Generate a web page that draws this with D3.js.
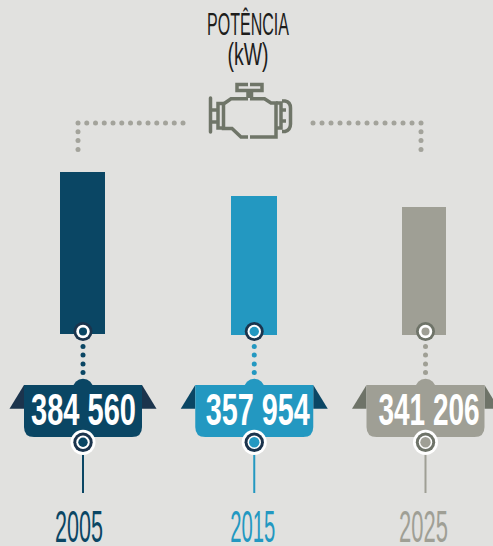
<!DOCTYPE html>
<html><head><meta charset="utf-8"><style>html,body{margin:0;padding:0;background:#e1e1df}svg{display:block}</style>
<script src="https://cdn.jsdelivr.net/npm/d3@7"></script></head><body><svg id="c" width="493" height="546"></svg>
<script>
const years=["2005","2015","2025"];
const values=[384560,357954,341206];
const labels=["384 560","357 954","341 206"];
const titleLines=["POTÊNCIA","(kW)"];
const mainColors=["#0a4664","#2398c1","#9f9f95"];
const darkColors=["#1b344d","#0a4664","#6e7368"];
const ringColors=["#1b344d","#1b344d","#6e7368"];
const svg=d3.select("#c");
const FONT="'Liberation Sans Narrow','Liberation Sans',sans-serif";
const x=d3.scalePoint().domain(years).range([83,425.5]);
const y=d3.scaleLinear().domain([341206,357954,384560]).range([207,196,172]);
const BASE=335;
const barDx=[-0.5,-0.25,-1.5], barW=[45,46,44], yearDx=[-4,-1.5,-2], yearW=[48,45,49], valDx=[0.5,3.5,3.5], valW=[105,104,101];
function condText(cx,by,t,w,size,fill,weight){
  const n=svg.append("text").attr("font-family",FONT).attr("font-size",size).attr("font-weight",weight||400)
    .attr("fill",fill).attr("text-anchor","middle").text(t);
  const sx=w/n.node().getComputedTextLength();
  n.attr("transform",`translate(${cx},${by}) scale(${sx},1)`);
  return n;
}
condText(248,35,titleLines[0],82,31.5,"#1d1d1b");
condText(248,65,titleLines[1],41,31.5,"#1d1d1b");
const dot="#a3a39b";
const dotsL=d3.range(13).map(i=>[78+i*8.75,123]).concat([131.7,140.5,149.5].map(v=>[78,v]));
const dotsR=d3.range(13).map(i=>[421-i*9,123]).concat([131.7,140.5,149.5].map(v=>[421,v]));
svg.append("g").selectAll("circle").data(dotsL.concat(dotsR)).join("circle").attr("cx",d=>d[0]).attr("cy",d=>d[1]).attr("r",2.5).attr("fill",dot);
// engine icon
const ic=svg.append("g").attr("fill","none").attr("stroke","#6f7568").attr("stroke-width",3.5).attr("stroke-linejoin","miter");
ic.append("path").attr("d","M210.5 98V132").attr("stroke-linecap","round");
ic.append("path").attr("d","M210.5 110H218M210.5 122H218");
ic.append("path").attr("d","M224 103.5H218V128H224");
ic.append("path").attr("d","M248 98.7H231L223.5 104V128.5H232L241 137H248M250 137H276V103H271L264.5 98.7H250");
ic.append("path").attr("d","M248 98V90.5H237V84.5H248M251.5 98V90.5H262V84.5H250");
ic.append("path").attr("d","M276 103H281V128H276M281 110H286M281 121H286");
ic.append("path").attr("d","M282 101H285Q290.5 102 290.5 108V124Q290.5 130 285 131.5H282");
years.forEach((yr,i)=>{
  const cx=x(yr),c=mainColors[i],d=darkColors[i],r=ringColors[i];
  const w=barW[i],bot=i==0?BASE-1:BASE;
  svg.append("rect").attr("x",cx+barDx[i]-w/2).attr("y",y(values[i])).attr("width",w).attr("height",bot-y(values[i])).attr("fill",c);
  [346.5,355,364,372.5].forEach(v=>svg.append("circle").attr("cx",cx).attr("cy",v).attr("r",2.5).attr("fill",c));
  // top marker
  svg.append("circle").attr("cx",cx).attr("cy",331.5).attr("r",9.5).attr("fill",r);
  svg.append("circle").attr("cx",cx).attr("cy",331.5).attr("r",6.7).attr("fill","#fff");
  svg.append("circle").attr("cx",cx).attr("cy",331.5).attr("r",i==1?4.7:4).attr("fill",c);
  // wings
  svg.append("path").attr("d",`M${cx-73.5} 408.7L${cx-59} 385V408.7Z`).attr("fill",d);
  svg.append("path").attr("d",`M${cx+73.5} 408.7L${cx+59} 385V408.7Z`).attr("fill",d);
  // badge
  svg.append("circle").attr("cx",cx).attr("cy",389).attr("r",10.3).attr("fill",c);
  svg.append("path").attr("d",`M${cx-59} 385H${cx+59}V427Q${cx+59} 437 ${cx+49} 437H${cx-49}Q${cx-59} 437 ${cx-59} 427Z`).attr("fill",c);
  condText(cx+valDx[i],425,labels[i],valW[i],45,"#fff",700);
  // bottom marker
  svg.append("circle").attr("cx",cx).attr("cy",442.3).attr("r",12.5).attr("fill","#fff");
  svg.append("circle").attr("cx",cx).attr("cy",442.3).attr("r",9.7).attr("fill",r);
  svg.append("circle").attr("cx",cx).attr("cy",442.3).attr("r",6.7).attr("fill","#fff");
  svg.append("circle").attr("cx",cx).attr("cy",442.3).attr("r",i==0?4.7:5.2).attr("fill",c);
  svg.append("line").attr("x1",cx).attr("x2",cx).attr("y1",455).attr("y2",493).attr("stroke",c).attr("stroke-width",2);
  condText(cx+yearDx[i],542,yr,yearW[i],43.5,c);
});
</script></body></html>
